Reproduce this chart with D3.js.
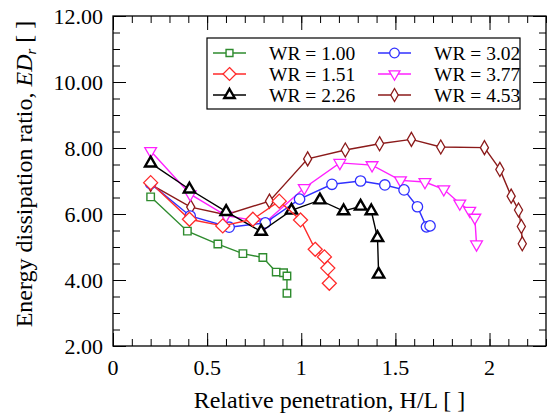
<!DOCTYPE html>
<html>
<head>
<meta charset="utf-8">
<script src="https://cdn.jsdelivr.net/npm/d3@7"></script>
<style>
  body { margin: 0; background: #fff; }
  text { font-family: "Liberation Serif", "Times New Roman", serif; fill: #000; }
</style>
</head>
<body>
<div id="chart"></div>
<script>
// legend labels, one per series
var labels = ["WR = 1.00", "WR = 1.51", "WR = 2.26", "WR = 3.02", "WR = 3.77", "WR = 4.53"];

// relative penetration H/L and energy dissipation ratio
var hl100 = [0.20, 0.395, 0.557, 0.69, 0.796, 0.867, 0.906, 0.924, 0.924];
var ed100 = [6.52, 5.48, 5.09, 4.80, 4.68, 4.24, 4.22, 4.12, 3.60];

var hl151 = [0.20, 0.406, 0.583, 0.743, 0.883, 0.996, 1.074, 1.123, 1.141, 1.149];
var ed151 = [6.95, 5.84, 5.64, 5.84, 6.39, 5.82, 4.93, 4.70, 4.36, 3.90];

var hl226 = [0.20, 0.406, 0.601, 0.787, 0.948, 1.099, 1.225, 1.315, 1.372, 1.405, 1.411];
var ed226 = [7.54, 6.75, 6.07, 5.47, 6.11, 6.42, 6.09, 6.23, 6.09, 5.28, 4.17];

var hl302 = [0.20, 0.41, 0.617, 0.809, 0.991, 1.163, 1.315, 1.444, 1.546, 1.617, 1.665, 1.684];
var ed302 = [6.92, 5.94, 5.60, 5.73, 6.45, 6.90, 7.00, 6.88, 6.73, 6.22, 5.61, 5.64];

var hl377 = [0.20, 0.41, 0.60, 0.81, 1.016, 1.205, 1.376, 1.527, 1.657, 1.757, 1.842, 1.895, 1.922, 1.931];
var ed377 = [7.91, 6.60, 5.95, 5.75, 6.79, 7.55, 7.48, 7.02, 6.97, 6.75, 6.32, 6.10, 5.89, 5.08];

var hl453 = [0.20, 0.413, 0.60, 0.831, 1.034, 1.234, 1.416, 1.585, 1.741, 1.973, 2.055, 2.115, 2.154, 2.169, 2.174];
var ed453 = [6.90, 6.21, 5.98, 6.39, 7.67, 7.94, 8.13, 8.26, 8.03, 8.01, 7.35, 6.54, 6.12, 5.62, 5.10];

var xTicks = [0, 0.5, 1, 1.5, 2];
var yTicks = [2, 4, 6, 8, 10, 12];

var W = 549, H = 414;
var frame = {left: 113, right: 546, top: 16, bottom: 346};

var colors = ["#2e8b2e", "#ff2a2a", "#000000", "#3030ff", "#ff20ff", "#8b1a1a"];

var triDown = {
  draw: function(ctx, size) {
    var y = Math.sqrt(size / (Math.sqrt(3) * 3));
    ctx.moveTo(0, 2 * y);
    ctx.lineTo(-Math.sqrt(3) * y, -y);
    ctx.lineTo(Math.sqrt(3) * y, -y);
    ctx.closePath();
  }
};

var styles = [
  {type: d3.symbolSquare,   size: 56,  sw: 1.4},
  {type: d3.symbolDiamond2, size: 125, sw: 1.3},
  {type: d3.symbolTriangle, size: 55,  sw: 2.4},
  {type: d3.symbolCircle,   size: 85,  sw: 1.3},
  {type: triDown,           size: 60,  sw: 1.3},
  {type: d3.symbolDiamond,  size: 57,  sw: 1.3}
];

var seriesX = [hl100, hl151, hl226, hl302, hl377, hl453];
var seriesY = [ed100, ed151, ed226, ed302, ed377, ed453];

var series = labels.map(function(l, i) {
  return {
    label: l, color: colors[i], style: styles[i],
    points: seriesX[i].map(function(v, j) { return [v, seriesY[i][j]]; })
  };
});

var svg = d3.select("#chart").append("svg")
  .attr("width", W)
  .attr("height", H);

var x = d3.scaleLinear().domain([0, 2.3]).range([frame.left, frame.right]);
var y = d3.scaleLinear().domain([2, 12]).range([frame.bottom, frame.top]);

var plotH = frame.bottom - frame.top, plotW = frame.right - frame.left;
var xMinor = d3.range(0, 2.31, 0.1);
var yMinor = d3.range(2, 12.01, 0.5);

function tickAxis(axis, tr, values, len) {
  var g = svg.append("g").attr("transform", tr)
    .call(axis.tickValues(values).tickSize(len).tickFormat(""));
  g.select(".domain").remove();
  g.selectAll("line").attr("stroke", "#000").attr("stroke-width", 1);
}

// inward ticks on all four sides
tickAxis(d3.axisBottom(x), "translate(0," + frame.bottom + ")", xMinor, -7);
tickAxis(d3.axisBottom(x), "translate(0," + frame.bottom + ")", xTicks, -13);
tickAxis(d3.axisTop(x), "translate(0," + frame.top + ")", xMinor, -7);
tickAxis(d3.axisTop(x), "translate(0," + frame.top + ")", xTicks, -14);
tickAxis(d3.axisLeft(y), "translate(" + frame.left + ",0)", yMinor, -7);
tickAxis(d3.axisLeft(y), "translate(" + frame.left + ",0)", yTicks, -13);
tickAxis(d3.axisRight(y), "translate(" + frame.right + ",0)", yMinor, -7);
tickAxis(d3.axisRight(y), "translate(" + frame.right + ",0)", yTicks, -13);

svg.append("rect")
  .attr("x", frame.left).attr("y", frame.top)
  .attr("width", plotW).attr("height", plotH)
  .attr("fill", "none").attr("stroke", "#000").attr("stroke-width", 1.3);

// tick labels
svg.selectAll(".xl").data(xTicks).enter().append("text")
  .attr("x", function(d) { return x(d); })
  .attr("y", 375)
  .attr("text-anchor", "middle")
  .style("font-size", "22px")
  .text(function(d) { return d; });

svg.selectAll(".yl").data(yTicks).enter().append("text")
  .attr("x", frame.left - 10)
  .attr("y", function(d) { return y(d) + 7.5; })
  .attr("text-anchor", "end")
  .style("font-size", "22px")
  .text(function(d) { return d.toFixed(2); });

// axis titles
svg.append("text")
  .attr("x", (frame.left + frame.right) / 2)
  .attr("y", 408)
  .attr("text-anchor", "middle")
  .style("font-size", "24px")
  .text("Relative penetration, H/L [ ]");

var yt = svg.append("text")
  .attr("transform", "translate(32,174) rotate(-90)")
  .attr("text-anchor", "middle")
  .style("font-size", "24px");
yt.append("tspan").text("Energy dissipation ratio, ");
yt.append("tspan").style("font-style", "italic").text("ED");
yt.append("tspan").style("font-style", "italic").style("font-size", "15px").attr("dy", 4).text("r");
yt.append("tspan").attr("dy", -4).text(" [ ]");

// series, last one drawn first
var line = d3.line().x(function(d) { return x(d[0]); }).y(function(d) { return y(d[1]); });

series.slice().reverse().forEach(function(s) {
  var g = svg.append("g");
  g.append("path")
    .attr("d", line(s.points))
    .attr("fill", "none")
    .attr("stroke", s.color)
    .attr("stroke-width", 1.4);
  g.selectAll("path.m").data(s.points).enter().append("path")
    .attr("class", "m")
    .attr("transform", function(d) { return "translate(" + x(d[0]) + "," + y(d[1]) + ")"; })
    .attr("d", d3.symbol().type(s.style.type).size(s.style.size))
    .attr("fill", "#fff")
    .attr("stroke", s.color)
    .attr("stroke-width", s.style.sw);
});

// legend
var lg = svg.append("g");
lg.append("rect")
  .attr("x", 207).attr("y", 38).attr("width", 313).attr("height", 71)
  .attr("fill", "#fff").attr("stroke", "#000").attr("stroke-width", 1.2);

series.forEach(function(s, i) {
  var col = Math.floor(i / 3), row = i % 3;
  var x0 = 213 + col * 165, yy = 53 + row * 21;
  lg.append("line")
    .attr("x1", x0).attr("x2", x0 + 33).attr("y1", yy).attr("y2", yy)
    .attr("stroke", s.color).attr("stroke-width", 1.4);
  lg.append("path")
    .attr("transform", "translate(" + (x0 + 16.5) + "," + yy + ")")
    .attr("d", d3.symbol().type(s.style.type).size(s.style.size * 0.85))
    .attr("fill", "#fff")
    .attr("stroke", s.color)
    .attr("stroke-width", s.style.sw);
  lg.append("text")
    .attr("x", x0 + 56).attr("y", yy + 6.5)
    .style("font-size", "19.5px")
    .text(s.label);
});
</script>
</body>
</html>
